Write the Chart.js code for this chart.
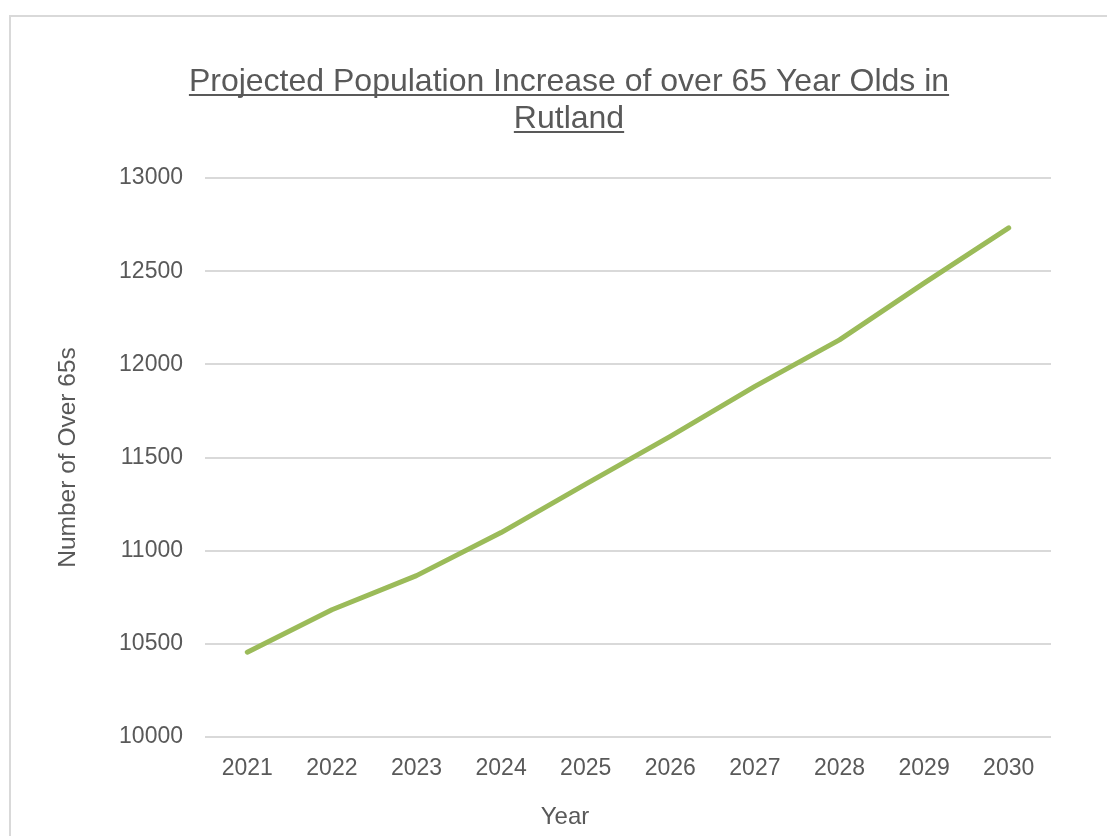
<!DOCTYPE html>
<html>
<head>
<meta charset="utf-8">
<script src="https://cdn.jsdelivr.net/npm/chart.js@4/dist/chart.umd.min.js"></script>
<style>
  html, body { margin: 0; padding: 0; background: #fff; overflow: hidden; }
  #marco { position: absolute; left: 9px; top: 15px; width: 1200px; height: 900px; border: 2px solid #d9d9d9; box-sizing: border-box; }
  #wrap { position: absolute; left: 0; top: 0; width: 1107px; height: 836px; }
</style>
</head>
<body>
<div id="marco"></div>
<div id="wrap"><canvas id="grafico" width="1107" height="836"></canvas></div>
<script>
// ==================== DATOS ====================
const titulo = ['Projected Population Increase of over 65 Year Olds in', 'Rutland'];
const tituloX = 'Year';
const anios = ['2021', '2022', '2023', '2024', '2025', '2026', '2027', '2028', '2029', '2030'];
const mayores65 = [10455, 10683, 10866, 11097, 11357, 11613, 11882, 12131, 12436, 12732];
const yMin = 10000;
const yMax = 13000;
const yPaso = 500;

const gris = '#595959';
const fuente = "'Liberation Sans', Arial, sans-serif";

// titulo subrayado y titulo del eje X (centrados en el marco, no en el area)
const textosMarco = {
  id: 'textosMarco',
  afterDraw(chart) {
    const c = chart.ctx;
    const cx = 569;
    c.save();
    c.fillStyle = gris;
    c.strokeStyle = gris;
    c.lineWidth = 2;
    c.textAlign = 'center';
    c.textBaseline = 'alphabetic';
    c.font = '32px ' + fuente;
    titulo.forEach((linea, i) => {
      const y = 91 + i * 37;
      c.fillText(linea, cx, y);
      const w = c.measureText(linea).width;
      c.beginPath();
      c.moveTo(cx - w / 2, y + 4);
      c.lineTo(cx + w / 2, y + 4);
      c.stroke();
    });
    c.font = '24px ' + fuente;
    c.fillText(tituloX, cx - 4, 824);
    c.restore();
  }
};

// ==================== GRAFICO ====================
const ctx = document.getElementById('grafico').getContext('2d');
new Chart(ctx, {
  type: 'line',
  data: {
    labels: anios,
    datasets: [{
      label: 'Number of Over 65s',
      data: mayores65,
      borderColor: '#9bbb59',
      borderWidth: 5,
      borderCapStyle: 'round',
      borderJoinStyle: 'round',
      pointRadius: 0,
      tension: 0,
      fill: false
    }]
  },
  options: {
    responsive: false,
    animation: false,
    layout: { padding: { left: 0, right: 56, top: 178, bottom: 0 } },
    plugins: {
      legend: { display: false },
      title: { display: false },
      tooltip: { enabled: false }
    },
    scales: {
      x: {
        offset: true,
        grid: { display: false, drawTicks: false },
        border: { display: false },
        ticks: { color: gris, font: { family: fuente, size: 23 }, padding: 18, maxRotation: 0 },
        afterFit(scale) { scale.height = 99; }
      },
      y: {
        min: yMin,
        max: yMax,
        grid: { color: '#d9d9d9', lineWidth: 2, drawTicks: false },
        border: { display: false },
        ticks: {
          stepSize: yPaso, color: gris, font: { family: fuente, size: 23 }, padding: 22,
          callback: v => String(v)
        },
        title: { display: true, text: 'Number of Over 65s', color: gris, font: { family: fuente, size: 24.5 }, padding: { top: 54, bottom: 0 } },
        afterFit(scale) { scale.width = 205; }
      }
    }
  },
  plugins: [textosMarco]
});
</script>
</body>
</html>
